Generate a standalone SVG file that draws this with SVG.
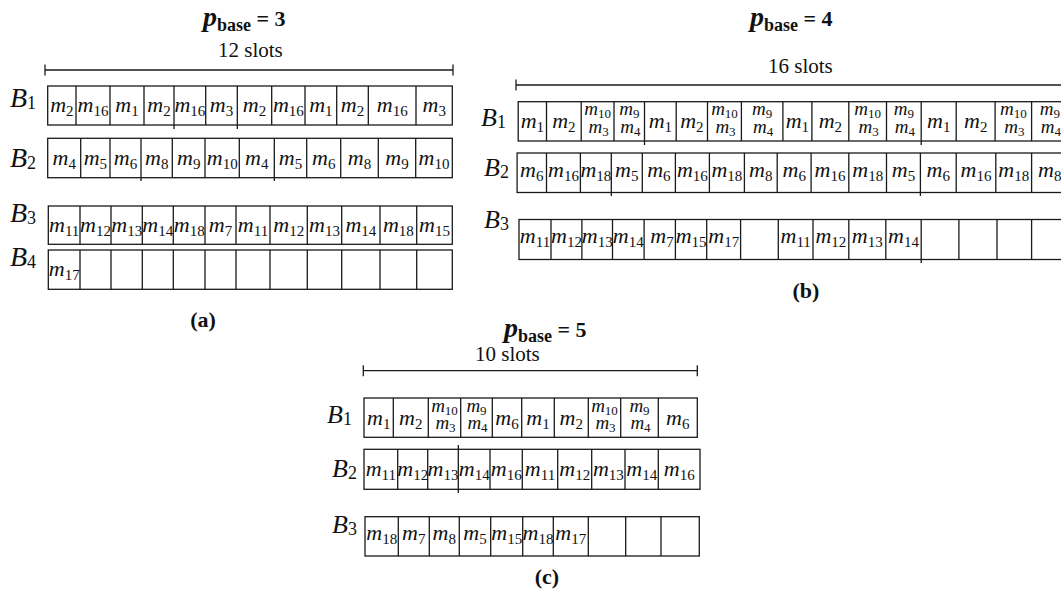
<svg xmlns="http://www.w3.org/2000/svg" width="1061" height="600" viewBox="0 0 1061 600">
<style>
.box{fill:#fff;stroke:#1a1a1a;stroke-width:1.3}
.dv{fill:none;stroke:#1a1a1a;stroke-width:1.3}
.dim{fill:none;stroke:#1a1a1a;stroke-width:1.3}
.m{font-family:"Liberation Serif",serif;font-style:italic;font-size:22px;text-anchor:middle;fill:#111}
.ms{font-size:19px}
.s{font-style:normal;font-size:15px}
.ss{font-style:normal;font-size:13px}
.B{font-family:"Liberation Serif",serif;font-style:italic;font-size:28px;fill:#111}
.Bb{font-size:26px}
.bs{font-style:normal;font-size:18px}
.title{font-family:"Liberation Serif",serif;font-weight:bold;fill:#111}
.slots{font-family:"Liberation Serif",serif;font-size:21px;fill:#111}
.cap{font-family:"Liberation Serif",serif;font-weight:bold;font-size:22px;text-anchor:middle;fill:#111}
</style>
<rect width="1061" height="600" fill="#fff"/>

<g id="connectors">
  <path class="dim" d="M45 70H453M45 64.5V75.5M453 64.5V75.5"/>
  <path class="dim" d="M516 85H1061M516 79.5V90.5"/>
  <path class="dim" d="M363.3 370.7H697.3M363.3 365.2V376.2M697.3 365.2V376.2"/>
</g>

<!-- Panel (a) -->
<g id="panel-a-title">
  <text class="title" x="203" y="26"><tspan font-style="italic" font-size="28">p</tspan><tspan font-size="18" dy="5">base</tspan><tspan font-size="22" dy="-5"> = 3</tspan></text>
  <text class="slots" x="218" y="57">12 slots</text>
</g>
<g id="a-B1">
  <text class="B" x="10" y="107">B<tspan class="bs" dy="2">1</tspan></text>
  <rect class="box" x="47.7" y="86" width="404.6" height="39"/>
  <path class="dv" d="M76 86V125M110 86V125M144 86V125M174 86V129M205.7 86V125M237.3 86V129M271.7 86V125M305 86V125M336.7 86V125M368.3 86V125M416 86V125"/>
  <text class="m" x="61.9" y="112">m<tspan class="s" dy="4">2</tspan></text>
  <text class="m" x="93" y="112">m<tspan class="s" dy="4">16</tspan></text>
  <text class="m" x="127" y="112">m<tspan class="s" dy="4">1</tspan></text>
  <text class="m" x="159" y="112">m<tspan class="s" dy="4">2</tspan></text>
  <text class="m" x="189.9" y="112">m<tspan class="s" dy="4">16</tspan></text>
  <text class="m" x="221.5" y="112">m<tspan class="s" dy="4">3</tspan></text>
  <text class="m" x="254.5" y="112">m<tspan class="s" dy="4">2</tspan></text>
  <text class="m" x="288.4" y="112">m<tspan class="s" dy="4">16</tspan></text>
  <text class="m" x="320.9" y="112">m<tspan class="s" dy="4">1</tspan></text>
  <text class="m" x="352.5" y="112">m<tspan class="s" dy="4">2</tspan></text>
  <text class="m" x="392.2" y="112">m<tspan class="s" dy="4">16</tspan></text>
  <text class="m" x="434.2" y="112">m<tspan class="s" dy="4">3</tspan></text>
</g>
<g id="a-B2">
  <text class="B" x="10" y="167">B<tspan class="bs" dy="2">2</tspan></text>
  <rect class="box" x="47.7" y="138.3" width="404.6" height="39.4"/>
  <path class="dv" d="M80.7 138.3V177.7M110 138.3V177.7M141 138.3V181M172.3 138.3V177.7M205 138.3V177.7M239.3 138.3V177.7M274.3 138.3V181M306.7 138.3V177.7M340.7 138.3V177.7M378.3 138.3V177.7M415.7 138.3V177.7"/>
  <text class="m" x="64.2" y="165">m<tspan class="s" dy="4">4</tspan></text>
  <text class="m" x="95.4" y="165">m<tspan class="s" dy="4">5</tspan></text>
  <text class="m" x="125.5" y="165">m<tspan class="s" dy="4">6</tspan></text>
  <text class="m" x="156.7" y="165">m<tspan class="s" dy="4">8</tspan></text>
  <text class="m" x="188.7" y="165">m<tspan class="s" dy="4">9</tspan></text>
  <text class="m" x="222.2" y="165">m<tspan class="s" dy="4">10</tspan></text>
  <text class="m" x="256.8" y="165">m<tspan class="s" dy="4">4</tspan></text>
  <text class="m" x="290.5" y="165">m<tspan class="s" dy="4">5</tspan></text>
  <text class="m" x="323.7" y="165">m<tspan class="s" dy="4">6</tspan></text>
  <text class="m" x="359.5" y="165">m<tspan class="s" dy="4">8</tspan></text>
  <text class="m" x="397" y="165">m<tspan class="s" dy="4">9</tspan></text>
  <text class="m" x="434" y="165">m<tspan class="s" dy="4">10</tspan></text>
</g>
<g id="a-B3">
  <text class="B" x="10" y="222">B<tspan class="bs" dy="2">3</tspan></text>
  <rect class="box" x="48.3" y="206" width="404" height="38.3"/>
  <path class="dv" d="M80 206V244.3M111 206V244.3M142.3 206V244.3M173.3 206V244.3M205 206V244.3M236 206V244.3M270 206V244.3M307.3 206V244.3M341.7 206V244.3M380 206V244.3M416.7 206V244.3"/>
  <text class="m" x="64.2" y="232">m<tspan class="s" dy="4">11</tspan></text>
  <text class="m" x="95.5" y="232">m<tspan class="s" dy="4">12</tspan></text>
  <text class="m" x="126.7" y="232">m<tspan class="s" dy="4">13</tspan></text>
  <text class="m" x="157.8" y="232">m<tspan class="s" dy="4">14</tspan></text>
  <text class="m" x="189.2" y="232">m<tspan class="s" dy="4">18</tspan></text>
  <text class="m" x="220.5" y="232">m<tspan class="s" dy="4">7</tspan></text>
  <text class="m" x="253" y="232">m<tspan class="s" dy="4">11</tspan></text>
  <text class="m" x="288.7" y="232">m<tspan class="s" dy="4">12</tspan></text>
  <text class="m" x="324.5" y="232">m<tspan class="s" dy="4">13</tspan></text>
  <text class="m" x="360.9" y="232">m<tspan class="s" dy="4">14</tspan></text>
  <text class="m" x="398.4" y="232">m<tspan class="s" dy="4">18</tspan></text>
  <text class="m" x="434.5" y="232">m<tspan class="s" dy="4">15</tspan></text>
</g>
<g id="a-B4">
  <text class="B" x="10" y="266">B<tspan class="bs" dy="2">4</tspan></text>
  <rect class="box" x="48.3" y="250" width="404" height="39.3"/>
  <path class="dv" d="M80 250V289.3M111 250V289.3M142.3 250V289.3M173.3 250V289.3M205 250V289.3M236 250V289.3M270 250V289.3M307.3 250V289.3M341.7 250V289.3M380 250V289.3M416.7 250V289.3"/>
  <text class="m" x="64.2" y="276">m<tspan class="s" dy="4">17</tspan></text>
</g>
<text class="cap" x="203" y="327">(a)</text>

<!-- Panel (b) -->
<g id="panel-b-title">
  <text class="title" x="750" y="26"><tspan font-style="italic" font-size="28">p</tspan><tspan font-size="18" dy="5">base</tspan><tspan font-size="22" dy="-5"> = 4</tspan></text>
  <text class="slots" x="768" y="73">16 slots</text>
</g>
<g id="b-B1">
  <text class="B Bb" x="481" y="126">B<tspan class="bs" dy="2">1</tspan></text>
  <rect class="box" x="518.2" y="101.7" width="549.8" height="39.3"/>
  <path class="dv" d="M546.5 101.7V141M581.2 101.7V141M614 101.7V141M644.5 101.7V145M676.2 101.7V141M707.5 101.7V141M741.4 101.7V141M782.9 101.7V141M811.9 101.7V141M848.8 101.7V141M886.5 101.7V141M921.2 101.7V145M956.2 101.7V141M995.1 101.7V141M1031.6 101.7V141"/>
  <text class="m" x="532.4" y="127.5">m<tspan class="s" dy="4">1</tspan></text>
  <text class="m" x="563.9" y="127.5">m<tspan class="s" dy="4">2</tspan></text>
  <text class="m ms" x="597.6" y="115">m<tspan class="ss" dy="3">10</tspan></text>
  <text class="m ms" x="598.6" y="133">m<tspan class="ss" dy="3">3</tspan></text>
  <text class="m ms" x="629.3" y="115">m<tspan class="ss" dy="3">9</tspan></text>
  <text class="m ms" x="630.3" y="133">m<tspan class="ss" dy="3">4</tspan></text>
  <text class="m" x="660.4" y="127.5">m<tspan class="s" dy="4">1</tspan></text>
  <text class="m" x="691.9" y="127.5">m<tspan class="s" dy="4">2</tspan></text>
  <text class="m ms" x="724.5" y="115">m<tspan class="ss" dy="3">10</tspan></text>
  <text class="m ms" x="725.5" y="133">m<tspan class="ss" dy="3">3</tspan></text>
  <text class="m ms" x="762.2" y="115">m<tspan class="ss" dy="3">9</tspan></text>
  <text class="m ms" x="763.2" y="133">m<tspan class="ss" dy="3">4</tspan></text>
  <text class="m" x="797.4" y="127.5">m<tspan class="s" dy="4">1</tspan></text>
  <text class="m" x="830.4" y="127.5">m<tspan class="s" dy="4">2</tspan></text>
  <text class="m ms" x="867.7" y="115">m<tspan class="ss" dy="3">10</tspan></text>
  <text class="m ms" x="868.7" y="133">m<tspan class="ss" dy="3">3</tspan></text>
  <text class="m ms" x="903.9" y="115">m<tspan class="ss" dy="3">9</tspan></text>
  <text class="m ms" x="904.9" y="133">m<tspan class="ss" dy="3">4</tspan></text>
  <text class="m" x="938.7" y="127.5">m<tspan class="s" dy="4">1</tspan></text>
  <text class="m" x="975.7" y="127.5">m<tspan class="s" dy="4">2</tspan></text>
  <text class="m ms" x="1013.4" y="115">m<tspan class="ss" dy="3">10</tspan></text>
  <text class="m ms" x="1014.4" y="133">m<tspan class="ss" dy="3">3</tspan></text>
  <text class="m ms" x="1049.8" y="115">m<tspan class="ss" dy="3">9</tspan></text>
  <text class="m ms" x="1050.8" y="133">m<tspan class="ss" dy="3">4</tspan></text>
</g>
<g id="b-B2">
  <text class="B Bb" x="484" y="175.5">B<tspan class="bs" dy="2">2</tspan></text>
  <rect class="box" x="517.1" y="153" width="550.9" height="39.5"/>
  <path class="dv" d="M546.5 153V192.5M580.4 153V192.5M611.3 153V196M642.3 153V192.5M675.4 153V192.5M709.4 153V192.5M744.4 153V192.5M777.2 153V192.5M811.1 153V192.5M848.8 153V192.5M886.5 153V192.5M920.4 153V196M956.2 153V192.5M995.8 153V192.5M1031.6 153V192.5"/>
  <text class="m" x="531.8" y="177">m<tspan class="s" dy="4">6</tspan></text>
  <text class="m" x="563.5" y="177">m<tspan class="s" dy="4">16</tspan></text>
  <text class="m" x="595.9" y="177">m<tspan class="s" dy="4">18</tspan></text>
  <text class="m" x="626.8" y="177">m<tspan class="s" dy="4">5</tspan></text>
  <text class="m" x="658.9" y="177">m<tspan class="s" dy="4">6</tspan></text>
  <text class="m" x="692.4" y="177">m<tspan class="s" dy="4">16</tspan></text>
  <text class="m" x="726.9" y="177">m<tspan class="s" dy="4">18</tspan></text>
  <text class="m" x="760.8" y="177">m<tspan class="s" dy="4">8</tspan></text>
  <text class="m" x="794.2" y="177">m<tspan class="s" dy="4">6</tspan></text>
  <text class="m" x="830" y="177">m<tspan class="s" dy="4">16</tspan></text>
  <text class="m" x="867.7" y="177">m<tspan class="s" dy="4">18</tspan></text>
  <text class="m" x="903.5" y="177">m<tspan class="s" dy="4">5</tspan></text>
  <text class="m" x="938.3" y="177">m<tspan class="s" dy="4">6</tspan></text>
  <text class="m" x="976" y="177">m<tspan class="s" dy="4">16</tspan></text>
  <text class="m" x="1013.7" y="177">m<tspan class="s" dy="4">18</tspan></text>
  <text class="m" x="1049.8" y="177">m<tspan class="s" dy="4">8</tspan></text>
</g>
<g id="b-B3">
  <text class="B Bb" x="484" y="228">B<tspan class="bs" dy="2">3</tspan></text>
  <rect class="box" x="519" y="219.5" width="549" height="40"/>
  <path class="dv" d="M551 219.5V259.5M581.9 219.5V259.5M612.5 219.5V259.5M644.1 219.5V259.5M675.4 219.5V259.5M706.7 219.5V259.5M740.6 219.5V259.5M778.3 219.5V259.5M813 219.5V259.5M848.8 219.5V259.5M885.8 219.5V259.5M921.2 219.5V263M958.9 219.5V259.5M997 219.5V259.5M1031.6 219.5V259.5"/>
  <text class="m" x="535" y="243">m<tspan class="s" dy="4">11</tspan></text>
  <text class="m" x="566.5" y="243">m<tspan class="s" dy="4">12</tspan></text>
  <text class="m" x="597.2" y="243">m<tspan class="s" dy="4">13</tspan></text>
  <text class="m" x="628.3" y="243">m<tspan class="s" dy="4">14</tspan></text>
  <text class="m" x="662" y="243">m<tspan class="s" dy="4">7</tspan></text>
  <text class="m" x="691.1" y="243">m<tspan class="s" dy="4">15</tspan></text>
  <text class="m" x="723.7" y="243">m<tspan class="s" dy="4">17</tspan></text>
  <text class="m" x="795.7" y="243">m<tspan class="s" dy="4">11</tspan></text>
  <text class="m" x="830.9" y="243">m<tspan class="s" dy="4">12</tspan></text>
  <text class="m" x="867.3" y="243">m<tspan class="s" dy="4">13</tspan></text>
  <text class="m" x="903.5" y="243">m<tspan class="s" dy="4">14</tspan></text>
</g>
<text class="cap" x="806" y="298">(b)</text>

<!-- Panel (c) -->
<g id="panel-c-title">
  <text class="title" x="504" y="337"><tspan font-style="italic" font-size="28">p</tspan><tspan font-size="18" dy="5">base</tspan><tspan font-size="22" dy="-5"> = 5</tspan></text>
  <text class="slots" x="475" y="361">10 slots</text>
</g>
<g id="c-B1">
  <text class="B Bb" x="327" y="423">B<tspan class="bs" dy="2">1</tspan></text>
  <rect class="box" x="364" y="398" width="333.3" height="39.3"/>
  <path class="dv" d="M393.3 398V437.3M428.3 398V437.3M460.7 398V437.3M492.3 398V437.3M521.7 398V437.3M554.3 398V437.3M588.3 398V437.3M620.7 398V437.3M658.3 398V437.3"/>
  <text class="m" x="378.7" y="425">m<tspan class="s" dy="4">1</tspan></text>
  <text class="m" x="410.8" y="425">m<tspan class="s" dy="4">2</tspan></text>
  <text class="m ms" x="444.5" y="412">m<tspan class="ss" dy="3">10</tspan></text>
  <text class="m ms" x="445.5" y="429">m<tspan class="ss" dy="3">3</tspan></text>
  <text class="m ms" x="476.5" y="412">m<tspan class="ss" dy="3">9</tspan></text>
  <text class="m ms" x="477.5" y="429">m<tspan class="ss" dy="3">4</tspan></text>
  <text class="m" x="507" y="425">m<tspan class="s" dy="4">6</tspan></text>
  <text class="m" x="538" y="425">m<tspan class="s" dy="4">1</tspan></text>
  <text class="m" x="571.3" y="425">m<tspan class="s" dy="4">2</tspan></text>
  <text class="m ms" x="604.5" y="412">m<tspan class="ss" dy="3">10</tspan></text>
  <text class="m ms" x="605.5" y="429">m<tspan class="ss" dy="3">3</tspan></text>
  <text class="m ms" x="639.5" y="412">m<tspan class="ss" dy="3">9</tspan></text>
  <text class="m ms" x="640.5" y="429">m<tspan class="ss" dy="3">4</tspan></text>
  <text class="m" x="677.8" y="425">m<tspan class="s" dy="4">6</tspan></text>
</g>
<g id="c-B2">
  <text class="B Bb" x="332" y="477">B<tspan class="bs" dy="2">2</tspan></text>
  <rect class="box" x="364" y="449.3" width="336" height="40"/>
  <path class="dv" d="M397.7 449.3V489.3M427.7 449.3V489.3M458.3 445V493M490 449.3V489.3M522.3 449.3V489.3M557.7 449.3V489.3M591.7 449.3V489.3M625 449.3V489.3M658.3 449.3V489.3"/>
  <text class="m" x="380.9" y="475.5">m<tspan class="s" dy="4">11</tspan></text>
  <text class="m" x="412.7" y="475.5">m<tspan class="s" dy="4">12</tspan></text>
  <text class="m" x="443" y="475.5">m<tspan class="s" dy="4">13</tspan></text>
  <text class="m" x="474.2" y="475.5">m<tspan class="s" dy="4">14</tspan></text>
  <text class="m" x="506.2" y="475.5">m<tspan class="s" dy="4">16</tspan></text>
  <text class="m" x="540" y="475.5">m<tspan class="s" dy="4">11</tspan></text>
  <text class="m" x="574.7" y="475.5">m<tspan class="s" dy="4">12</tspan></text>
  <text class="m" x="608.4" y="475.5">m<tspan class="s" dy="4">13</tspan></text>
  <text class="m" x="641.7" y="475.5">m<tspan class="s" dy="4">14</tspan></text>
  <text class="m" x="679.2" y="475.5">m<tspan class="s" dy="4">16</tspan></text>
</g>
<g id="c-B3">
  <text class="B Bb" x="332" y="533">B<tspan class="bs" dy="2">3</tspan></text>
  <rect class="box" x="365" y="516.7" width="334.3" height="39.3"/>
  <path class="dv" d="M398.3 516.7V556M429.3 516.7V556M459.3 516.7V556M490.7 516.7V556M522.7 516.7V556M553.3 516.7V556M588.3 516.7V556M625.7 516.7V556M661 516.7V556"/>
  <text class="m" x="381.7" y="540">m<tspan class="s" dy="4">18</tspan></text>
  <text class="m" x="413.8" y="540">m<tspan class="s" dy="4">7</tspan></text>
  <text class="m" x="444.3" y="540">m<tspan class="s" dy="4">8</tspan></text>
  <text class="m" x="475" y="540">m<tspan class="s" dy="4">5</tspan></text>
  <text class="m" x="506.7" y="540">m<tspan class="s" dy="4">15</tspan></text>
  <text class="m" x="538" y="540">m<tspan class="s" dy="4">18</tspan></text>
  <text class="m" x="570.8" y="540">m<tspan class="s" dy="4">17</tspan></text>
</g>
<text class="cap" x="547" y="584">(c)</text>
</svg>
